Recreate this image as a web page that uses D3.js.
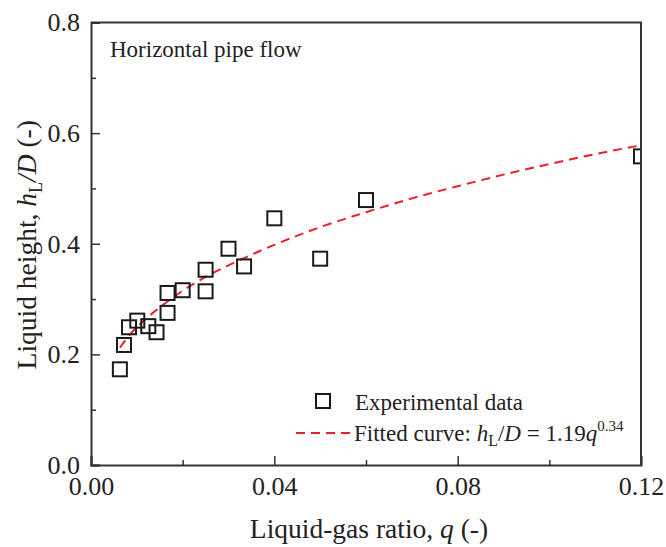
<!DOCTYPE html>
<html>
<head>
<meta charset="utf-8">
<script src="https://cdn.jsdelivr.net/npm/d3@7"></script>
<style>
  body { margin: 0; background: #fff; }
  svg { display: block; font-family: "Liberation Serif", "Times New Roman", serif; }
</style>
</head>
<body>
<div id="chart"></div>
<script>
// experimental points
const qExp = [0.0063, 0.0072, 0.0083, 0.0101, 0.0125, 0.0143, 0.0167, 0.0167, 0.0200,
              0.0250, 0.0250, 0.0300, 0.0334, 0.0400, 0.0500, 0.0600, 0.1200];
const hExp = [0.173, 0.217, 0.249, 0.261, 0.251, 0.240, 0.275, 0.311, 0.316,
              0.314, 0.353, 0.391, 0.359, 0.446, 0.373, 0.479, 0.558];

// fitted curve h_L/D = 1.19 q^0.34, sampled along the dashed line
const qFit = [0.0063, 0.008, 0.01, 0.0125, 0.015, 0.02, 0.025, 0.03, 0.04,
              0.05, 0.06, 0.07, 0.08, 0.09, 0.10, 0.11, 0.12];
const hFit = [0.212, 0.231, 0.249, 0.268, 0.285, 0.315, 0.340, 0.361, 0.398,
              0.430, 0.457, 0.482, 0.504, 0.525, 0.544, 0.562, 0.578];

const xTicks = [0, 0.04, 0.08, 0.12];
const xMinor = [0.02, 0.06, 0.10];
const yTicks = [0, 0.2, 0.4, 0.6, 0.8];
const yMinor = [0.1, 0.3, 0.5, 0.7];

const W = 666, H = 547;
const m = {left: 91, right: 25, top: 22.5, bottom: 82};
const serif = '"Liberation Serif", "Times New Roman", serif';

const svg = d3.select("#chart").append("svg")
    .attr("width", W)
    .attr("height", H);

const x = d3.scaleLinear().domain([0, 0.12]).range([m.left, W - m.right]);
const y = d3.scaleLinear().domain([0, 0.8]).range([H - m.bottom, m.top]);

svg.append("clipPath").attr("id", "plot-clip")
  .append("rect")
    .attr("x", x(0)).attr("y", y(0.8))
    .attr("width", x(0.12) - x(0)).attr("height", y(0) - y(0.8));

const plot = svg.append("g").attr("clip-path", "url(#plot-clip)");

// fitted curve
const fitPts = qFit.map((q, i) => [q, hFit[i]]);
plot.append("path")
    .datum(fitPts)
    .attr("fill", "none")
    .attr("stroke", "#e8202a")
    .attr("stroke-width", 2)
    .attr("stroke-dasharray", "9,6")
    .attr("d", d3.line().x(d => x(d[0])).y(d => y(d[1])).curve(d3.curveMonotoneX));

// experimental squares
const sq = 14;
plot.selectAll("rect.pt")
    .data(qExp.map((q, i) => [q, hExp[i]]))
  .enter().append("rect")
    .attr("class", "pt")
    .attr("x", d => x(d[0]) - sq / 2)
    .attr("y", d => y(d[1]) - sq / 2)
    .attr("width", sq)
    .attr("height", sq)
    .attr("fill", "none")
    .attr("stroke", "#1a1a1a")
    .attr("stroke-width", 2);

// axes (ticks point inward)
const fmt2 = d3.format(".2f"), fmt1 = d3.format(".1f");

svg.append("g")
    .attr("transform", `translate(0,${y(0)})`)
    .call(d3.axisBottom(x).tickValues(xMinor).tickSize(-5).tickFormat(""))
    .call(g => g.select(".domain").remove());
const xAxis = svg.append("g")
    .attr("transform", `translate(0,${y(0)})`)
    .call(d3.axisBottom(x).tickValues(xTicks).tickSize(-9).tickPadding(12).tickFormat(fmt2));

svg.append("g")
    .attr("transform", `translate(${x(0)},0)`)
    .call(d3.axisLeft(y).tickValues(yMinor).tickSize(-5).tickFormat(""))
    .call(g => g.select(".domain").remove());
const yAxis = svg.append("g")
    .attr("transform", `translate(${x(0)},0)`)
    .call(d3.axisLeft(y).tickValues(yTicks).tickSize(-9).tickPadding(11).tickFormat(fmt1));

svg.selectAll(".tick line").attr("stroke", "#333").attr("stroke-width", 1.5);
svg.selectAll(".domain").attr("stroke", "#333").attr("stroke-width", 2);
[xAxis, yAxis].forEach(a => a.attr("font-family", serif).attr("font-size", 26)
    .selectAll("text").attr("fill", "#222"));

// top and right frame
svg.append("path")
    .attr("d", `M${x(0)},${y(0.8)}H${x(0.12)}V${y(0)}`)
    .attr("fill", "none")
    .attr("stroke", "#333")
    .attr("stroke-width", 2);

// axis titles
svg.append("text")
    .attr("x", (x(0) + x(0.12)) / 2 + 3)
    .attr("y", 538)
    .attr("text-anchor", "middle")
    .attr("font-size", 27.5)
    .attr("fill", "#222")
    .html('Liquid-gas ratio, <tspan font-style="italic">q</tspan> (-)');

svg.append("text")
    .attr("transform", `translate(36,${(y(0) + y(0.8)) / 2 + 1}) rotate(-90)`)
    .attr("text-anchor", "middle")
    .attr("font-size", 27.5)
    .attr("fill", "#222")
    .html('Liquid height, <tspan font-style="italic">h</tspan><tspan font-size="18" dy="6">L</tspan>' +
          '<tspan dy="-6" font-style="italic">/D</tspan> (-)');

// annotation
svg.append("text")
    .attr("x", 110).attr("y", 57)
    .attr("font-size", 23)
    .attr("fill", "#222")
    .text("Horizontal pipe flow");

// legend
const lg = svg.append("g");
lg.append("rect")
    .attr("x", 316).attr("y", 394).attr("width", sq).attr("height", sq)
    .attr("fill", "none").attr("stroke", "#1a1a1a").attr("stroke-width", 2);
lg.append("text")
    .attr("x", 355).attr("y", 410)
    .attr("font-size", 23).attr("fill", "#222")
    .text("Experimental data");
lg.append("line")
    .attr("x1", 296).attr("x2", 350).attr("y1", 433).attr("y2", 433)
    .attr("stroke", "#e8202a").attr("stroke-width", 2).attr("stroke-dasharray", "9,6");
lg.append("text")
    .attr("x", 354).attr("y", 441)
    .attr("font-size", 23).attr("fill", "#222")
    .html('Fitted curve: <tspan font-style="italic">h</tspan><tspan font-size="16" dy="5">L</tspan>' +
          '<tspan dy="-5">/</tspan><tspan font-style="italic">D</tspan> = 1.19<tspan font-style="italic">q</tspan>' +
          '<tspan font-size="15" dy="-10">0.34</tspan>');
</script>
</body>
</html>
